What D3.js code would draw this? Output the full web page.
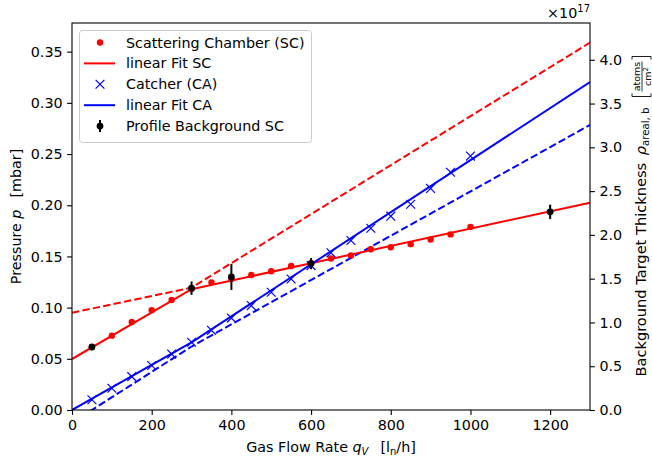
<!DOCTYPE html>
<html>
<head>
<meta charset="utf-8">
<script src="https://cdn.jsdelivr.net/npm/d3@7"></script>
<style>
html,body{margin:0;padding:0;background:#fff;}
svg{display:block;font-family:"DejaVu Sans",sans-serif;}
</style>
</head>
<body>
<svg id="chart" width="652" height="459"></svg>
<script>
// ---------- data ----------
const flowSC = [50,100,150,200,250,300,350,400,450,500,550,600,650,700,750,800,850,900,950,1000];
const pressureSC = [0.0618,0.0726,0.0860,0.0974,0.1075,0.1185,0.1247,0.1280,0.1319,0.1355,0.1407,0.1433,0.1480,0.1510,0.1570,0.1590,0.1620,0.1666,0.1715,0.1788];
const flowCA = [50,100,150,200,250,300,350,400,450,500,550,600,650,700,750,800,850,900,950,1000];
const pressureCA = [0.0100,0.0212,0.0326,0.0435,0.0546,0.0662,0.0778,0.0898,0.1020,0.1150,0.1280,0.1410,0.1535,0.1656,0.1775,0.1893,0.2010,0.2164,0.2322,0.2480];
const flowBG = [50,300,400,600,1200];
const pressureBG = [0.0615,0.1190,0.1300,0.1430,0.1936];
const errBG = [0.0030,0.0065,0.0127,0.0055,0.0070];
// fit lines (flow, pressure) break points
const fitSCFlow = [0,300,1300];
const fitSCP = [0.0498,0.1180,0.2025];
const fitSCDashFlow = [0,300,1300];
const fitSCDashP = [0.0950,0.1195,0.3588];
const fitCAFlow = [0,300,1300];
const fitCAP = [0.0,0.0660,0.3204];
const fitCADashFlow = [0,300,1300];
const fitCADashP = [-0.0124,0.0620,0.2784];
// ticks
const xTicks = [0,200,400,600,800,1000,1200];
const yTicks = [0.00,0.05,0.10,0.15,0.20,0.25,0.30,0.35];
const yRTicks = [0.0,0.5,1.0,1.5,2.0,2.5,3.0,3.5,4.0];

// ---------- layout ----------
const L=72, R=590, T=23, B=410;
const FS = 14.3;
const svg = d3.select("#chart");
const x = d3.scaleLinear().domain([0,1300]).range([L,R]);
const y = d3.scaleLinear().domain([0,0.378]).range([B,T]);
const yR = d3.scaleLinear().domain([0,4.42]).range([B,T]);

svg.append("defs").append("clipPath").attr("id","clip")
  .append("rect").attr("x",L).attr("y",T).attr("width",R-L).attr("height",B-T);

const plot = svg.append("g").attr("clip-path","url(#clip)");
const line = d3.line().x(d=>x(d[0])).y(d=>y(d[1]));
const zip = (a,b)=>a.map((v,i)=>[v,b[i]]);

// dashed lines
plot.append("path").datum(zip(fitSCDashFlow,fitSCDashP)).attr("d",line)
  .attr("fill","none").attr("stroke","#ff0000").attr("stroke-width",2).attr("stroke-dasharray","7.4,3.2");
plot.append("path").datum(zip(fitCADashFlow,fitCADashP)).attr("d",line)
  .attr("fill","none").attr("stroke","#0000ff").attr("stroke-width",2).attr("stroke-dasharray","7.4,3.2");

// SC points + fit
plot.append("g").selectAll("circle").data(zip(flowSC,pressureSC)).join("circle")
  .attr("cx",d=>x(d[0])).attr("cy",d=>y(d[1])).attr("r",3.2).attr("fill","#ff0000");
plot.append("path").datum(zip(fitSCFlow,fitSCP)).attr("d",line)
  .attr("fill","none").attr("stroke","#ff0000").attr("stroke-width",2);

// CA points + fit
const xs = 4.4;
plot.append("g").selectAll("path").data(zip(flowCA,pressureCA)).join("path")
  .attr("d",d=>{const cx=x(d[0]),cy=y(d[1]);return `M${cx-xs},${cy-xs}L${cx+xs},${cy+xs}M${cx-xs},${cy+xs}L${cx+xs},${cy-xs}`;})
  .attr("stroke","#0000ff").attr("stroke-width",1.2).attr("fill","none");
plot.append("path").datum(zip(fitCAFlow,fitCAP)).attr("d",line)
  .attr("fill","none").attr("stroke","#0000ff").attr("stroke-width",2);

// background error bars
const bg = plot.append("g");
flowBG.forEach((f,i)=>{
  bg.append("line").attr("x1",x(f)).attr("x2",x(f))
    .attr("y1",y(pressureBG[i]-errBG[i])).attr("y2",y(pressureBG[i]+errBG[i]))
    .attr("stroke","#000").attr("stroke-width",2);
  bg.append("circle").attr("cx",x(f)).attr("cy",y(pressureBG[i])).attr("r",3.4).attr("fill","#000");
});

// ---------- axes ----------
const axStyle = g=>{
  g.selectAll("text").attr("font-size",FS).attr("font-family","DejaVu Sans").attr("fill","#000");
  g.selectAll("line").attr("stroke","#000").attr("stroke-width",1.1);
  g.select(".domain").remove();
};
svg.append("g").attr("transform",`translate(0,${B})`)
  .call(d3.axisBottom(x).tickValues(xTicks).tickFormat(d3.format("d")).tickSize(4.9).tickPadding(4.5)).call(axStyle);
svg.append("g").attr("transform",`translate(${L},0)`)
  .call(d3.axisLeft(y).tickValues(yTicks).tickFormat(d3.format(".2f")).tickSize(4.9).tickPadding(4.5)).call(axStyle);
svg.append("g").attr("transform",`translate(${R},0)`)
  .call(d3.axisRight(yR).tickValues(yRTicks).tickFormat(d3.format(".1f")).tickSize(4.9).tickPadding(4.5)).call(axStyle);

// frame
svg.append("rect").attr("x",L).attr("y",T).attr("width",R-L).attr("height",B-T)
  .attr("fill","none").attr("stroke","#000").attr("stroke-width",1.1);

// exponent
const ex = svg.append("text").attr("x",R).attr("y",18).attr("text-anchor","end").attr("font-size",FS);
ex.append("tspan").text("×10");
ex.append("tspan").attr("font-size",10).attr("dy",-6).text("17");

// x label
const xl = svg.append("text").attr("x",(L+R)/2).attr("y",452).attr("text-anchor","middle").attr("font-size",FS);
xl.append("tspan").text("Gas Flow Rate ");
xl.append("tspan").attr("font-style","italic").text("q");
xl.append("tspan").attr("font-style","italic").attr("font-size",10).attr("dy",3).text("V");
xl.append("tspan").attr("dy",-3).attr("dx",12).text("[l");
xl.append("tspan").attr("font-size",10).attr("dy",3).text("n");
xl.append("tspan").attr("dy",-3).text("/h]");

// left y label
const yl = svg.append("text").attr("transform",`translate(21,${(T+B)/2}) rotate(-90)`)
  .attr("text-anchor","middle").attr("font-size",FS);
yl.append("tspan").text("Pressure ");
yl.append("tspan").attr("font-style","italic").text("p");
yl.append("tspan").attr("dx",12).text("[mbar]");

// right y label
const rg = svg.append("g");
const rt = rg.append("text").attr("font-size",14.6).attr("x",0).attr("y",0);
rt.append("tspan").text("Background Target Thickness ");
rt.append("tspan").attr("font-style","italic").attr("dx",3).text("ρ");
rt.append("tspan").attr("font-size",10.2).attr("dy",3).text("areal, b");
const tlen = rt.node().getComputedTextLength() + 3;
const fx = tlen + 11;
const fr = rg.append("g").attr("transform",`translate(${fx},0)`);
const bh1=-14, bh2=5, bw=40;
fr.append("path").attr("d",`M3,${bh1}L0,${bh1}L0,${bh2}L3,${bh2}`).attr("fill","none").attr("stroke","#000").attr("stroke-width",0.9);
fr.append("path").attr("d",`M${bw-3},${bh1}L${bw},${bh1}L${bw},${bh2}L${bw-3},${bh2}`).attr("fill","none").attr("stroke","#000").attr("stroke-width",0.9);
fr.append("text").attr("x",bw/2).attr("y",-6).attr("text-anchor","middle").attr("font-size",9.5).text("atoms");
fr.append("line").attr("x1",5).attr("x2",bw-5).attr("y1",-4).attr("y2",-4).attr("stroke","#000").attr("stroke-width",0.8);
const den = fr.append("text").attr("x",bw/2).attr("y",4.5).attr("text-anchor","middle").attr("font-size",9.5);
den.append("tspan").text("cm");
den.append("tspan").attr("font-size",7).attr("dy",-3).text("2");
const totalLen = fx + bw;
rg.attr("transform",`translate(646,${(T+B)/2+totalLen/2}) rotate(-90)`);

// ---------- legend ----------
const lg = svg.append("g");
lg.append("rect").attr("x",79.5).attr("y",30.5).attr("width",232).attr("height",112).attr("rx",3)
  .attr("fill","#fff").attr("fill-opacity",0.8).attr("stroke","#cccccc").attr("stroke-width",1);
const items = [
  {label:"Scattering Chamber (SC)", type:"dot"},
  {label:"linear Fit SC", type:"lineR"},
  {label:"Catcher (CA)", type:"x"},
  {label:"linear Fit CA", type:"lineB"},
  {label:"Profile Background SC", type:"err"}
];
items.forEach((it,i)=>{
  const cy = 42.5 + i*20.9;
  const cx = 100;
  if(it.type==="dot") lg.append("circle").attr("cx",cx).attr("cy",cy).attr("r",3.2).attr("fill","#ff0000");
  if(it.type==="lineR") lg.append("line").attr("x1",84).attr("x2",115).attr("y1",cy).attr("y2",cy).attr("stroke","#ff0000").attr("stroke-width",2);
  if(it.type==="lineB") lg.append("line").attr("x1",84).attr("x2",115).attr("y1",cy).attr("y2",cy).attr("stroke","#0000ff").attr("stroke-width",2);
  if(it.type==="x") lg.append("path").attr("d",`M${cx-xs},${cy-xs}L${cx+xs},${cy+xs}M${cx-xs},${cy+xs}L${cx+xs},${cy-xs}`).attr("stroke","#0000ff").attr("stroke-width",1.2);
  if(it.type==="err"){
    lg.append("line").attr("x1",cx).attr("x2",cx).attr("y1",cy-6).attr("y2",cy+6).attr("stroke","#000").attr("stroke-width",2);
    lg.append("circle").attr("cx",cx).attr("cy",cy).attr("r",3.4).attr("fill","#000");
  }
  lg.append("text").attr("x",126).attr("y",cy+5).attr("font-size",FS).text(it.label);
});
</script>
</body>
</html>
